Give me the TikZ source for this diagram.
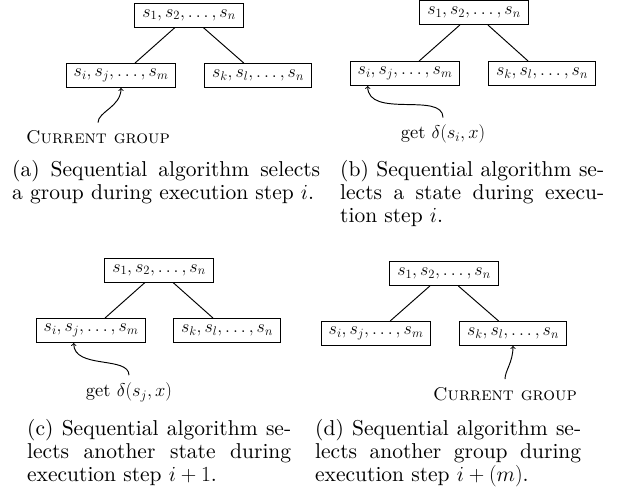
\RequirePackage{fix-cm}
\documentclass[tikz,border=0pt]{standalone}
\usepackage{fontspec}
\newfontfamily\capfont{lmroman10-regular}[Extension=.otf]
\newfontfamily\scfont{lmromancaps10-regular}[Extension=.otf]
\usetikzlibrary{calc}
\tikzset{
  gbox/.style={draw, line width=0.95pt, inner xsep=7.5pt, inner ysep=0pt,
    minimum height=24pt, font=\fontsize{18}{20}\selectfont},
  edge/.style={line width=0.95pt},
  pointer/.style={->, line width=0.95pt},
  capt/.style={anchor=north west, inner sep=0pt, align=left,
    font=\capfont\fontsize{21.5}{23}\selectfont},
  getlbl/.style={inner sep=0pt, font=\capfont\fontsize{18.5}{20}\selectfont},
  cglbl/.style={inner sep=0pt, font=\scfont\fontsize{18.5}{20}\selectfont},
}
\begin{document}
\begin{tikzpicture}[x=1pt,y=-1pt]
\path[use as bounding box, fill=white] (0,0) rectangle (621,491);

% ---------- (a)
\node[gbox] (a0) at (189,15) {$s_1, s_2, \ldots, s_n$};
\node[gbox] (a1) at (121,75.5) {$s_i, s_j, \ldots, s_m$};
\node[gbox] (a2) at (258,75.5) {$s_k, s_l, \ldots, s_n$};
\draw[edge] (a0) -- (a1);
\draw[edge] (a0) -- (a2);
\node[cglbl] (acg) at (98,137.5) {Current group};
\draw[pointer, shorten <=8pt] (acg.north) to[out=90,in=-90] (a1.south);
\node[capt] (acap) at (12,160)
  {\makebox[308pt][s]{(a) Sequential algorithm selects}\\
   a group during execution step $i$.};

% ---------- (b)
\node[gbox] (b0) at (474,12.5) {$s_1, s_2, \ldots, s_n$};
\node[gbox] (b1) at (405,73.5) {$s_i, s_j, \ldots, s_m$};
\node[gbox] (b2) at (542,73.5) {$s_k, s_l, \ldots, s_n$};
\draw[edge] (b0) -- (b1);
\draw[edge] (b0) -- (b2);
\coordinate (btip) at ($(b1.south west)+(18,0)$);
\node[getlbl] (bget) at (443,134) {get $\delta(s_i, x)$};
\draw[pointer, shorten <=7pt] (bget.north) to[out=90,in=-90] (btip);
\node[capt] (bcap) at (340,160)
  {\makebox[264pt][s]{(b) Sequential algorithm se-}\\
   \makebox[264pt][s]{lects a state during execu-}\\
   tion step $i$.};

% ---------- (c)
\node[gbox] (c0) at (159,270) {$s_1, s_2, \ldots, s_n$};
\node[gbox] (c1) at (91,330.5) {$s_i, s_j, \ldots, s_m$};
\node[gbox] (c2) at (227,330.5) {$s_k, s_l, \ldots, s_n$};
\draw[edge] (c0) -- (c1);
\draw[edge] (c0) -- (c2);
\coordinate (ctip) at ($(c1.south west)+(38,0)$);
\node[getlbl] (cget) at (129,392) {get $\delta(s_j, x)$};
\draw[pointer, shorten <=7pt] (cget.north) to[out=90,in=-90] (ctip);
\node[capt] (ccap) at (27,419)
  {\makebox[264pt][s]{(c) Sequential algorithm se-}\\
   \makebox[264pt][s]{lects another state during}\\
   execution step $i+1$.};

% ---------- (d)
\node[gbox] (d0) at (444,273.5) {$s_1, s_2, \ldots, s_n$};
\node[gbox] (d1) at (376,333.5) {$s_i, s_j, \ldots, s_m$};
\node[gbox] (d2) at (513,333.5) {$s_k, s_l, \ldots, s_n$};
\draw[edge] (d0) -- (d1);
\draw[edge] (d0) -- (d2);
\node[cglbl] (dcg) at (505,394) {Current group};
\draw[pointer, shorten <=8pt] (dcg.north) to[out=90,in=-90] (d2.south);
\node[capt] (dcap) at (315,419)
  {\makebox[266pt][s]{(d) Sequential algorithm se-}\\
   \makebox[266pt][s]{lects another group during}\\
   execution step $i+(m)$.};
\end{tikzpicture}
\end{document}
